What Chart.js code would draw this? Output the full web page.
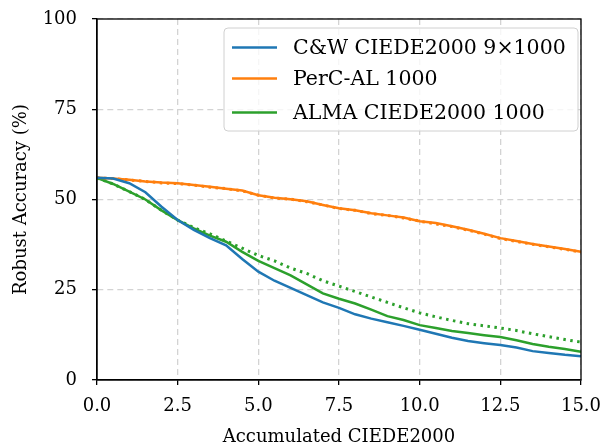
<!DOCTYPE html>
<html>
<head>
<meta charset="utf-8">
<script src="https://cdn.jsdelivr.net/npm/chart.js@4.4.0/dist/chart.umd.min.js"></script>
<style>
  html, body { margin: 0; padding: 0; background: #fff; }
  #wrap { width: 605px; height: 446px; }
</style>
</head>
<body>
<div id="wrap"><canvas id="chart" width="605" height="446"></canvas></div>
<script>
// accumulated CIEDE2000 budget (x)
var budget = [0, 0.5, 1, 1.5, 2, 2.5, 3, 3.5, 4, 4.5, 5, 5.5, 6, 6.5, 7, 7.5, 8, 8.5, 9, 9.5, 10, 10.5, 11, 11.5, 12, 12.5, 13, 13.5, 14, 14.5, 15];

// robust accuracy (%)
var cwCiede = [56, 55.8, 54.5, 52, 48, 44.3, 41.6, 39.3, 37.3, 33.5, 30, 27.5, 25.5, 23.5, 21.5, 20, 18.2, 17, 16, 15, 13.9, 12.8, 11.7, 10.8, 10.2, 9.7, 9, 8, 7.5, 7, 6.6];
var percAl = [56, 55.8, 55.5, 55, 54.7, 54.5, 54, 53.5, 53, 52.5, 51.2, 50.5, 50.1, 49.5, 48.5, 47.6, 47, 46.2, 45.6, 45, 44, 43.5, 42.6, 41.6, 40.5, 39.3, 38.5, 37.7, 37, 36.3, 35.5];
var percAlDot = [56, 55.8, 55.4, 55, 54.6, 54.4, 54, 53.4, 53, 52.4, 51.2, 50.4, 50.1, 49.4, 48.5, 47.5, 47, 46.1, 45.6, 44.9, 44, 43.2, 42.5, 41.5, 40.4, 39.2, 38.4, 37.6, 36.9, 36.2, 35.4];
var almaCiede = [56, 54.3, 52.2, 50, 47, 44.3, 42, 40, 38.3, 35.5, 33, 31, 29, 26.5, 24, 22.5, 21.2, 19.5, 17.7, 16.6, 15.2, 14.4, 13.6, 13, 12.4, 11.9, 11, 10, 9.2, 8.6, 7.8];
var almaDot = [56, 54.3, 52.2, 50, 47, 44.3, 42.2, 40.5, 38.5, 36.5, 34.5, 33, 31, 29.5, 27.5, 26, 24.5, 23, 21.5, 20, 18.6, 17.5, 16.5, 15.6, 15, 14.4, 13.7, 12.8, 12, 11.2, 10.5];

var xTicks = [0, 2.5, 5, 7.5, 10, 12.5, 15];
var yTicks = [0, 25, 50, 75, 100];

var BLUE = '#1f77b4', ORANGE = '#ff7f0e', GREEN = '#2ca02c';
var FONT = 'DejaVu Serif';

function pts(ys) {
    var out = [];
    for (var i = 0; i < budget.length; i++) out.push({x: budget[i], y: ys[i]});
    return out;
}

function line(label, ys, color, dotted) {
    return {
        label: label,
        data: pts(ys),
        borderColor: color,
        backgroundColor: color,
        borderWidth: dotted ? 3 : 2.5,
        borderDash: dotted ? [2.5, 4.5] : [],
        pointRadius: 0,
        tension: 0,
        fill: false,
        inLegend: !dotted
    };
}

// keep the plot box where the reference has it
function noPad(s) {
    s.paddingTop = 0;
    s.paddingBottom = 0;
    s.paddingLeft = 0;
    s.paddingRight = 0;
}

// matplotlib style frame + legend inside the axes
var framePlugin = {
    id: 'frame',
    afterDraw: function(chart) {
        var ctx = chart.ctx, a = chart.chartArea;
        ctx.save();
        ctx.strokeStyle = '#000';
        ctx.lineWidth = 1.3;
        ctx.strokeRect(a.left, a.top, a.right - a.left, a.bottom - a.top);

        // legend
        var bx = 224, by = 28, bw = 354, bh = 103;
        ctx.beginPath();
        ctx.roundRect(bx, by, bw, bh, 4);
        ctx.fillStyle = 'rgba(255,255,255,0.8)';
        ctx.fill();
        ctx.strokeStyle = '#d0d0d0';
        ctx.lineWidth = 1;
        ctx.stroke();
        var rows = [47.5, 78.5, 112.5];
        var n = 0;
        ctx.font = '20.5px ' + FONT;
        ctx.textBaseline = 'middle';
        ctx.fillStyle = '#000';
        chart.data.datasets.forEach(function(ds) {
            if (!ds.inLegend) return;
            var y = rows[n++];
            ctx.beginPath();
            ctx.strokeStyle = ds.borderColor;
            ctx.lineWidth = 2.5;
            ctx.moveTo(232, y);
            ctx.lineTo(277, y);
            ctx.stroke();
            ctx.fillText(ds.label, 293, y + 1);
        });
        ctx.restore();
    }
};

new Chart(document.getElementById('chart'), {
    type: 'line',
    data: {
        datasets: [
            line('C&W CIEDE2000 9×1000', cwCiede, BLUE, false),
            line('PerC-AL 1000', percAl, ORANGE, false),
            line('ALMA CIEDE2000 1000', almaCiede, GREEN, false),
            line('PerC-AL 1000 (dotted)', percAlDot, ORANGE, true),
            line('ALMA CIEDE2000 1000 (dotted)', almaDot, GREEN, true)
        ]
    },
    options: {
        responsive: false,
        animation: false,
        layout: { padding: { top: 19, right: 24, left: 0, bottom: 0 } },
        plugins: { legend: { display: false }, tooltip: { enabled: false } },
        scales: {
            x: {
                type: 'linear',
                min: 0, max: 15,
                afterBuildTicks: function(s) { s.ticks = xTicks.map(function(v) { return {value: v}; }); },
                afterFit: function(s) { s.height = 66; noPad(s); },
                ticks: {
                    color: '#000', font: { family: FONT, size: 18 }, padding: 11,
                    maxRotation: 0,
                    callback: function(v) { return v.toFixed(1); }
                },
                grid: { color: '#d3d3d3', lineWidth: 1.3, tickColor: '#000', tickLength: 5, tickWidth: 1.3, tickBorderDash: [] },
                border: { display: true, color: '#000', width: 1.3, dash: [6, 4] },
                title: { display: true, text: 'Accumulated CIEDE2000', color: '#000', font: { family: FONT, size: 18, lineHeight: 1 }, padding: { top: 4, bottom: 0 } }
            },
            y: {
                min: 0, max: 100,
                afterBuildTicks: function(s) { s.ticks = yTicks.map(function(v) { return {value: v}; }); },
                afterFit: function(s) { s.width = 97; noPad(s); },
                ticks: { color: '#000', font: { family: FONT, size: 18 }, padding: 15 },
                grid: { color: '#d3d3d3', lineWidth: 1.3, tickColor: '#000', tickLength: 5, tickWidth: 1.3, tickBorderDash: [] },
                border: { display: true, color: '#000', width: 1.3, dash: [6, 4] },
                title: { display: true, text: 'Robust Accuracy (%)', color: '#000', font: { family: FONT, size: 18 }, padding: { top: 11, bottom: 0 } }
            }
        }
    },
    plugins: [framePlugin]
});
</script>
</body>
</html>
